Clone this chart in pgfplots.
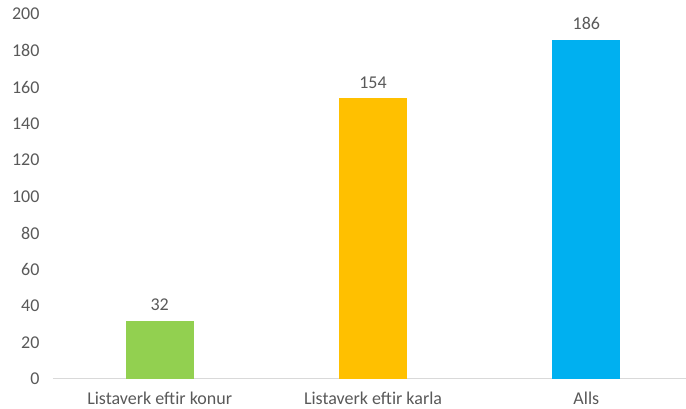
\documentclass[border=0pt]{standalone}
\usepackage{fontspec}
\setmainfont{Carlito}
\usepackage{pgfplots}
\pgfplotsset{compat=1.18}
\definecolor{txt}{HTML}{595959}
\definecolor{axl}{HTML}{D9D9D9}
\definecolor{cg}{HTML}{92D050}
\definecolor{co}{HTML}{FFC000}
\definecolor{cb}{HTML}{00B0F0}
\begin{document}
\begin{tikzpicture}
\begin{axis}[
  at={(0pt,0pt)}, anchor=south west,
  scale only axis,
  width=640pt, height=365pt,
  xmin=-0.5, xmax=2.5, ymin=0, ymax=200,
  ytick={0,20,...,200},
  xtick={0,1,2},
  xticklabels={Listaverk eftir konur, Listaverk eftir karla, Alls},
  axis x line*=bottom,
  axis y line*=left,
  y axis line style={draw=none},
  x axis line style={draw=axl, line width=1pt, -},
  xtick style={draw=none},
  ytick style={draw=none},
  yticklabel style={anchor=east, xshift=-10pt},
  xticklabel style={yshift=-5pt},
  tick label style={font=\fontsize{18}{21}\selectfont, text=txt},
  /pgf/number format/assume math mode=true,
  ybar, bar width=68pt, bar shift=0pt,
  nodes near coords,
  nodes near coords style={font=\fontsize{18}{21}\selectfont, text=txt, yshift=6pt},
  clip=false,
]
\addplot[fill=cg, draw=none] coordinates {(0,32)};
\addplot[fill=co, draw=none] coordinates {(1,154)};
\addplot[fill=cb, draw=none] coordinates {(2,186)};
\end{axis}
\pgfresetboundingbox
\path (-53pt,-30pt) rectangle (633pt,379pt);
\end{tikzpicture}
\end{document}
